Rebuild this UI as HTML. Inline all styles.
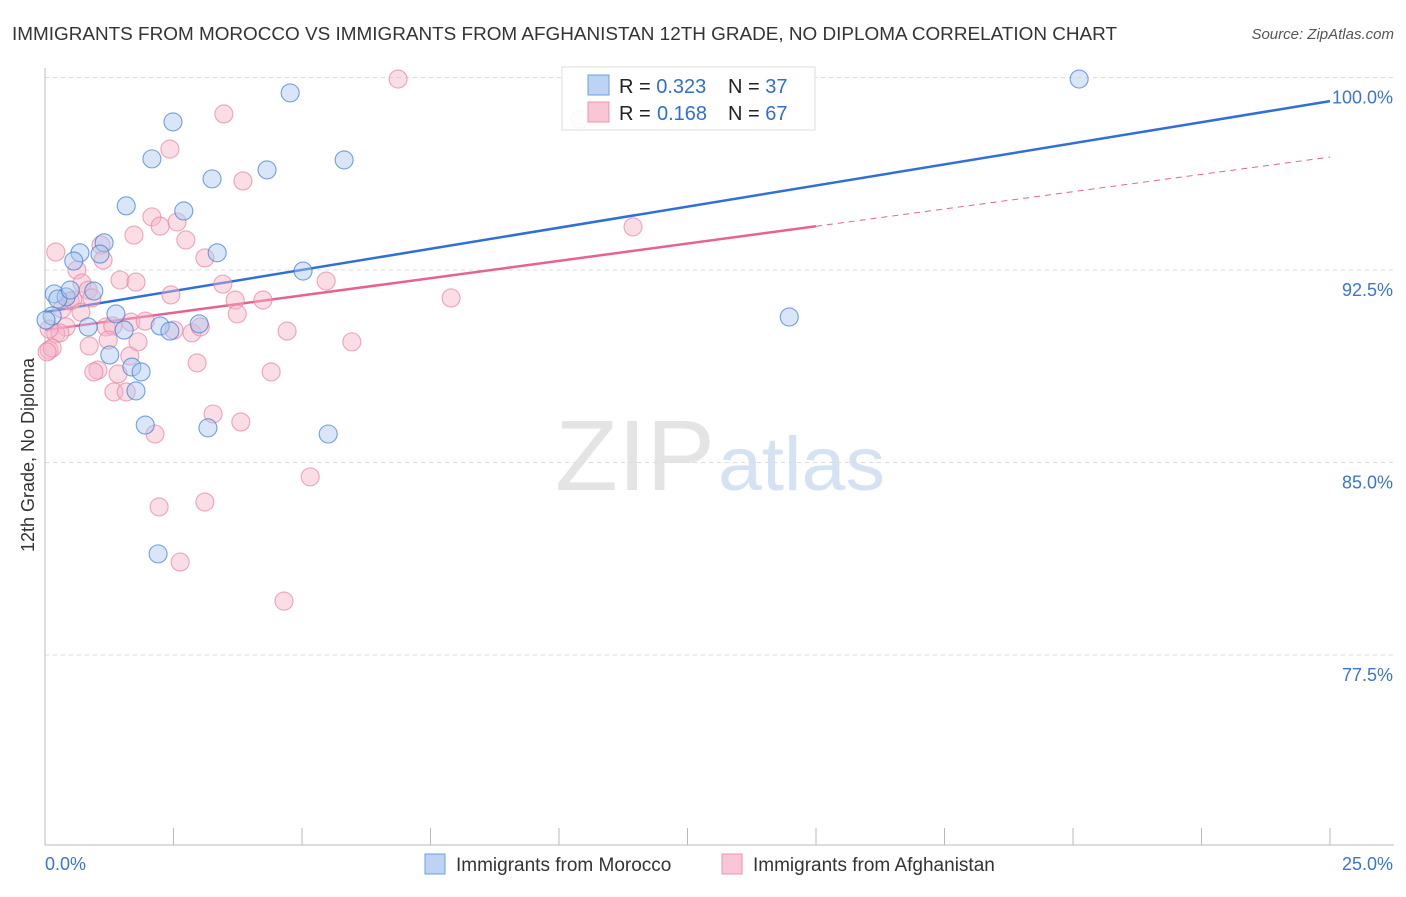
<!DOCTYPE html>
<html><head><meta charset="utf-8">
<style>
body{margin:0;background:#fff;font-family:"Liberation Sans",sans-serif;}
svg text{font-family:"Liberation Sans",sans-serif;}
</style></head>
<body>
<svg id="chart" width="1406" height="892" viewBox="0 0 1406 892">
<text x="12" y="40" font-size="18" fill="#333" textLength="1105" lengthAdjust="spacingAndGlyphs">IMMIGRANTS FROM MOROCCO VS IMMIGRANTS FROM AFGHANISTAN 12TH GRADE, NO DIPLOMA CORRELATION CHART</text>
<text x="1394" y="39" font-size="15" fill="#555" text-anchor="end" font-style="italic">Source: ZipAtlas.com</text>
<text x="555" y="490" font-size="100" fill="#e4e4e4" textLength="160" lengthAdjust="spacingAndGlyphs" font-family="Liberation Serif">ZIP</text>
<text x="718" y="490" font-size="76" fill="#d4e2f4" textLength="167" lengthAdjust="spacingAndGlyphs">atlas</text>
<g id="grid"></g>
<g id="axes"></g>
<g id="lines"></g>
<g id="points"></g>
<text transform="translate(34,455) rotate(-90)" font-size="18" fill="#333" text-anchor="middle">12th Grade, No Diploma</text>
<g>
<rect x="562" y="67" width="253" height="63" fill="#fff" fill-opacity="0.9" stroke="#ddd"/>
<rect x="588" y="75" width="21" height="20" fill="#bcd3f4" stroke="#6d9ee0"/>
<rect x="588" y="102" width="21" height="20" fill="#f9c6d5" stroke="#ee93ae"/>
<text x="619" y="93" font-size="20" fill="#222">R = <tspan fill="#2f6fd0">0.323</tspan><tspan x="728">N = </tspan><tspan fill="#2f6fd0">37</tspan></text>
<text x="619" y="120" font-size="20" fill="#222">R = <tspan x="657" fill="#2f6fd0">0.168</tspan><tspan x="728">N = </tspan><tspan fill="#2f6fd0">67</tspan></text>
</g>
<g>
<rect x="425" y="854" width="20" height="20" fill="#bcd3f4" stroke="#6d9ee0"/>
<text x="456" y="871" font-size="19" fill="#333">Immigrants from Morocco</text>
<rect x="722" y="854" width="20" height="20" fill="#f9c6d5" stroke="#ee93ae"/>
<text x="753" y="871" font-size="19" fill="#333">Immigrants from Afghanistan</text>
</g>
</svg>
<script>
const xTicks=[0,2.5,5,7.5,10,12.5,15,17.5,20,22.5,25];
const yTicks=[77.5,85,92.5,100];
const yTickLabels=["77.5%","85.0%","92.5%","100.0%"];
const xEndLabels=["0.0%","25.0%"];
const moroccoX=[20.12,4.77,2.49,2.08,5.82,4.32,3.25,1.58,2.70,1.15,0.68,3.35,1.07,0.56,5.02,0.18,0.41,0.25,0.95,0.49,1.38,0.84,1.54,2.24,2.43,3.00,1.26,1.69,1.87,1.77,1.95,3.17,5.51,2.20,14.48,0.14,0.02];
const moroccoY=[99.94,99.40,98.27,96.83,96.79,96.40,96.05,95.00,94.80,93.56,93.17,93.17,93.12,92.85,92.46,91.57,91.45,91.37,91.68,91.72,90.79,90.28,90.16,90.32,90.12,90.40,89.19,88.72,88.53,87.79,86.46,86.35,86.11,81.44,90.67,90.71,90.55];
const afghanX=[6.87,3.48,10.41,2.43,3.85,2.08,2.24,2.57,1.73,0.21,1.09,2.74,11.44,1.13,3.11,0.62,0.72,1.46,1.77,3.46,5.47,0.84,0.49,2.45,3.70,4.24,7.90,3.74,1.19,1.67,1.95,0.41,1.32,2.51,2.86,0.21,4.71,0.29,0.86,1.23,5.97,0.08,0.14,1.65,2.96,1.03,1.42,4.40,0.95,1.34,1.58,3.27,3.81,2.14,5.16,2.22,3.11,2.63,4.65,0.08,0.04,0.33,0.54,0.70,1.81,3.02,0.91];
const afghanY=[99.94,98.58,98.38,97.21,95.97,94.57,94.21,94.37,93.86,93.20,93.47,93.67,94.18,92.89,92.97,92.50,91.99,92.11,92.03,91.95,92.07,91.72,91.29,91.53,91.33,91.33,91.41,90.79,90.28,90.47,90.51,90.28,90.32,90.16,90.05,90.01,90.12,90.05,89.54,89.77,89.70,89.38,89.46,89.15,88.88,88.60,88.45,88.53,88.53,87.75,87.75,86.89,86.58,86.11,84.44,83.27,83.46,81.12,79.60,90.20,89.31,90.98,91.33,90.86,89.70,90.28,91.41];
const moroccoFit=[90.86,99.08];
const afghanFit=[90.16,96.90];
const afghanSolidEnd=15;

const NS="http://www.w3.org/2000/svg";
const xs=v=>45+v/25*1285;
const ys=v=>77.5+(100-v)/7.5*192.5;
function mk(tag,attrs,parent){const e=document.createElementNS(NS,tag);for(const k in attrs)e.setAttribute(k,attrs[k]);parent.appendChild(e);return e;}
const grid=document.getElementById('grid'),axes=document.getElementById('axes'),lines=document.getElementById('lines'),pts=document.getElementById('points');

yTicks.forEach((t,i)=>{
  const g=mk('line',{x1:45,x2:1394,y1:ys(t),y2:ys(t),stroke:'#ddd','stroke-dasharray':'4,4'},grid);
  
  
  const tx=mk('text',{x:1393,y:ys(t)+26,'font-size':18,fill:'#3b74d4','text-anchor':'end'},axes);
  tx.textContent=yTickLabels[i];
  
  
});
const yl=mk('line',{x1:45,x2:45,y1:68,y2:845,stroke:'#bbb'},axes);


const xl=mk('line',{x1:45,x2:1394,y1:845,y2:845,stroke:'#bbb'},axes);


xTicks.forEach(t=>{
  const l=mk('line',{x1:xs(t),x2:xs(t),y1:828,y2:845,stroke:'#bbb'},axes);
  
  
});
const xl0=mk('text',{x:45,y:870,'font-size':18,fill:'#3b74d4'},axes);xl0.textContent=xEndLabels[0];


const xl1=mk('text',{x:1393,y:870,'font-size':18,fill:'#3b74d4','text-anchor':'end'},axes);xl1.textContent=xEndLabels[1];



function drawPts(X,Y,fill,stroke,name){
  X.forEach((x,i)=>{
    const c=mk('circle',{cx:xs(x),cy:ys(Y[i]),r:9,fill:fill,'fill-opacity':0.45,stroke:stroke,'stroke-width':1.1,'stroke-opacity':0.7},pts);
    
    
  });
}
drawPts(afghanX,afghanY,'#f6b3c8','#e8829f','afghanistan-point');
drawPts(moroccoX,moroccoY,'#a9c8f0','#3d7ad6','morocco-point');

const bl=mk('line',{x1:xs(0),y1:ys(moroccoFit[0]),x2:xs(25),y2:ys(moroccoFit[1]),stroke:'#2f6fd6','stroke-width':2.5},lines);


const ay=x=>afghanFit[0]+(afghanFit[1]-afghanFit[0])*x/25;
const pl=mk('line',{x1:xs(0),y1:ys(ay(0)),x2:xs(afghanSolidEnd),y2:ys(ay(afghanSolidEnd)),stroke:'#e8628f','stroke-width':2.5},lines);


const pd=mk('line',{x1:xs(afghanSolidEnd),y1:ys(ay(afghanSolidEnd)),x2:xs(25),y2:ys(ay(25)),stroke:'#e8628f','stroke-width':1,'stroke-dasharray':'6,5'},lines);


</script>
</body></html>
